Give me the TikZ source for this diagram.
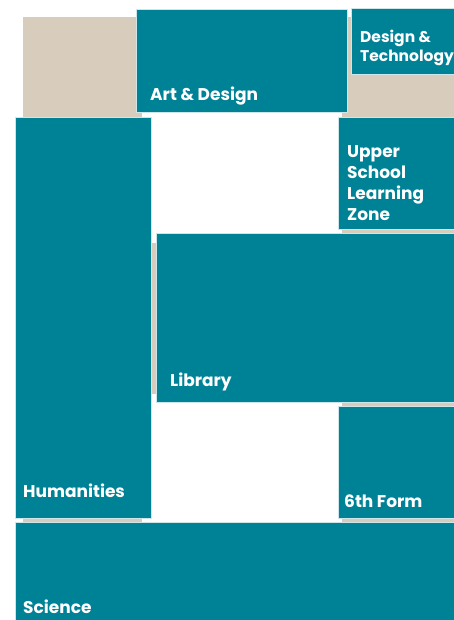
\documentclass[tikz,border=0pt]{standalone}
\usepackage{fontspec}
\setmainfont{Poppins}
\definecolor{roomteal}{RGB}{0,130,150}
\definecolor{walltan}{RGB}{216,205,188}
\tikzset{
	room/.style={fill=roomteal, draw=white!80!roomteal, line width=0.6pt},
	wall/.style={fill=walltan},
	roomlabel/.style={text=white, font=\bfseries\fontsize{17}{21.3}\selectfont, anchor=base west, inner sep=0pt, align=left}
}
\begin{document}
\begin{tikzpicture}[x=1pt, y=-1pt]
	\useasboundingbox (0, 0) rectangle (454, 620);
	\clip (0, 0) rectangle (454, 620);
	% Draw tan backing
	\fill[wall] (23, 17) rectangle (142, 522);
	\fill[wall] (342, 17) rectangle (454, 522);
	\fill[wall] (150, 243) rectangle (454, 394);

	% Draw rooms
	\filldraw[room] (136, 9) rectangle (347, 112);
	\filldraw[room] (351, 8) rectangle (460, 74);
	\filldraw[room] (338, 117) rectangle (460, 229);
	\filldraw[room] (156, 233) rectangle (460, 402);
	\filldraw[room] (15, 117) rectangle (151, 518);
	\filldraw[room] (338, 406) rectangle (460, 518);
	\filldraw[room] (15, 522) rectangle (460, 625);

	% Room names (multi-line ones sit on their last line)
	\node[roomlabel] (art) at (150, 101) {Art \& Design};
	\node[roomlabel, font=\bfseries\fontsize{15.5}{19}\selectfont] (tech) at (360, 62) {Design \&\\Technology};
	\node[roomlabel] (upper) at (347, 221) {Upper\\School\\Learning\\Zone};
	\node[roomlabel] (library) at (170, 386) {Library};
	\node[roomlabel] (humanities) at (23, 497) {Humanities};
	\node[roomlabel] (sixth) at (344, 507) {6th Form};
	\node[roomlabel] (science) at (23, 613) {Science};
\end{tikzpicture}
\end{document}
